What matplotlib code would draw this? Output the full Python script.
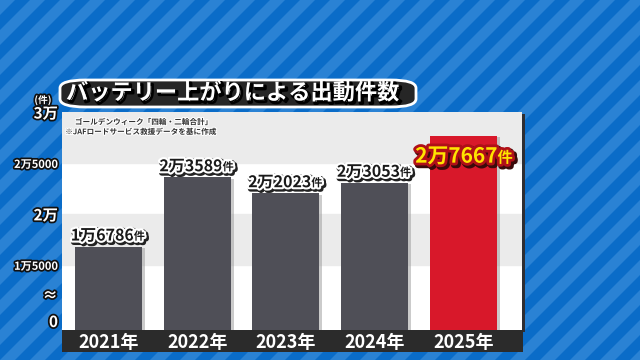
import numpy as np
import matplotlib
matplotlib.use("Agg")
import matplotlib.pyplot as plt
import matplotlib.patheffects as pe
from matplotlib.patches import Polygon, Rectangle, FancyBboxPatch

plt.rcParams['font.family'] = ['Noto Sans CJK JP', 'DejaVu Sans']

# data
years = ["2021年", "2022年", "2023年", "2024年", "2025年"]
counts = [16786, 23589, 22023, 23053, 27667]
count_labels = ["1万6786", "2万3589", "2万2023", "2万3053", "2万7667"]
ytick_vals = [0, 8300, 15000, 20000, 25000, 30000]
ytick_labels = ["0", "≈", "1万5000", "2万", "2万5000", "3万"]

title = "バッテリー上がりによる出動件数"
note1 = "ゴールデンウィーク「四輪・二輪合計」"
note2 = "※JAFロードサービス救援データを基に作成"

W, H = 640, 360
fig = plt.figure(figsize=(6.4, 3.6), dpi=100)
fig.patch.set_facecolor('#0a6cc8')

# ----------------------
# striped background
# ----------------------
period, sw = 30, 15
for x0 in range(-H, W + H, period):
    pts = [(x0, 0), (x0 + sw, 0), (x0 + sw + H, H), (x0 + H, H)]
    fig.patches.append(Polygon([(px / W, py / H) for px, py in pts],
                               closed=True, transform=fig.transFigure,
                               facecolor='#2a82d4', edgecolor='none', zorder=-10))

# ----------------------
# broken y scale (0-15000 squeezed)
# ----------------------
K = 6400.0

def fwd(v):
    v = np.asarray(v, dtype=float)
    return np.where(v < 15000, v * K / 15000, K + v - 15000)

def inv(u):
    u = np.asarray(u, dtype=float)
    return np.where(u < K, u * 15000 / K, u - K + 15000)

# panel shadow
fig.patches.append(Rectangle((65 / W, 28 / H), 460 / W, 218 / H, transform=fig.transFigure,
                             facecolor='#2e2e33', edgecolor='none', zorder=-6))

ax = fig.add_axes([62 / W, 30 / H, 460 / W, 218 / H])
ax.set_yscale('function', functions=(fwd, inv))
ax.set_facecolor('white')
ax.set_ylim(0, 30000)
ax.set_xlim(-0.524, 4.66)

ax.axhspan(25000, 30000, color='#ebebeb', zorder=0)
ax.axhspan(15000, 20000, color='#ebebeb', zorder=0)

x = np.arange(len(years))
colors = ['#4f4f57'] * 4 + ['#d8182a']
bars = ax.bar(x, counts, width=0.755, color=colors, zorder=2)
for b in bars:
    b.set_path_effects([pe.SimplePatchShadow(offset=(2, -1), shadow_rgbFace='#999999', alpha=0.5), pe.Normal()])

for s in ax.spines.values():
    s.set_visible(False)

# value labels
dark_fx = [pe.Stroke(linewidth=4, foreground='#222222', offset=(1.2, -1.2)),
           pe.Stroke(linewidth=3, foreground='white'), pe.Normal()]
red_fx = [pe.Stroke(linewidth=5, foreground='#3a0a0a', offset=(1.5, -1.5)),
          pe.Stroke(linewidth=4, foreground='#b01018'), pe.Normal()]
for i, (v, lab) in enumerate(zip(counts, count_labels)):
    if i == 4:
        t = ax.text(i - 0.08, v - 2000, lab, ha='center', va='center', fontsize=15,
                    fontweight='bold', color='#ffe400', path_effects=red_fx, zorder=5)
        ax.annotate("件", xy=(1, 0.05), xycoords=t, ha='left', va='bottom', fontsize=11,
                    fontweight='bold', color='#ffe400', path_effects=red_fx, zorder=5)
    else:
        t = ax.text(i - 0.07, v + 300, lab, ha='center', va='bottom', fontsize=11.5,
                    fontweight='bold', color='#1a1a1a', path_effects=dark_fx, zorder=5)
        ax.annotate("件", xy=(1, 0.05), xycoords=t, ha='left', va='bottom', fontsize=8,
                    fontweight='bold', color='#1a1a1a', path_effects=dark_fx, zorder=5)

# y ticks
ax.set_yticks(ytick_vals)
ax.set_yticklabels(ytick_labels)
ax.tick_params(axis='y', length=0, pad=3)
white_fx = [pe.Stroke(linewidth=2.5, foreground='#111111'), pe.Normal()]
for tl, lab in zip(ax.get_yticklabels(), ytick_labels):
    tl.set_color('white')
    tl.set_fontweight('bold')
    tl.set_fontsize(8 if '5000' in lab else 11)
    tl.set_path_effects(white_fx)
ax.get_yticklabels()[0].set_va('bottom')

# x ticks on black band
fig.patches.append(Rectangle((62 / W, 8 / H), 461 / W, 22 / H, transform=fig.transFigure,
                             facecolor='#2b2b2b', edgecolor='none', zorder=-5))
ax.set_xticks(x)
ax.set_xticklabels(years, color='white', fontsize=13, fontweight='bold')
ax.tick_params(axis='x', length=0, pad=2)

# notes
note_fx = [pe.Stroke(linewidth=1.5, foreground='white'), pe.Normal()]
ax.text(0.028, 0.975, note1, transform=ax.transAxes, fontsize=5.5, color='#333333',
        fontweight='bold', ha='left', va='top', path_effects=note_fx, zorder=6)
ax.text(0.007, 0.93, note2, transform=ax.transAxes, fontsize=5.5, color='#333333',
        fontweight='bold', ha='left', va='top', path_effects=note_fx, zorder=6)

# title box
fig.patches.append(FancyBboxPatch((60 / W, 1 - 107 / H), 356 / W, 27 / H,
                                  boxstyle='round,pad=0.0,rounding_size=0.04',
                                  transform=fig.transFigure, mutation_aspect=H / W,
                                  facecolor='#262626', edgecolor='white', linewidth=2, zorder=3))
fig.text(66 / W, 1 - 93 / H, title, fontsize=16, fontweight='bold', color='white',
         ha='left', va='center', zorder=4,
         path_effects=[pe.Stroke(linewidth=2, foreground='#000000', offset=(1.5, -1.5)), pe.Normal()])
fig.text(43 / W, 1 - 100 / H, "(件)", fontsize=7, fontweight='bold', color='white',
         ha='center', va='center', path_effects=white_fx)

fig.savefig("out.png", dpi=100, facecolor=fig.get_facecolor())
